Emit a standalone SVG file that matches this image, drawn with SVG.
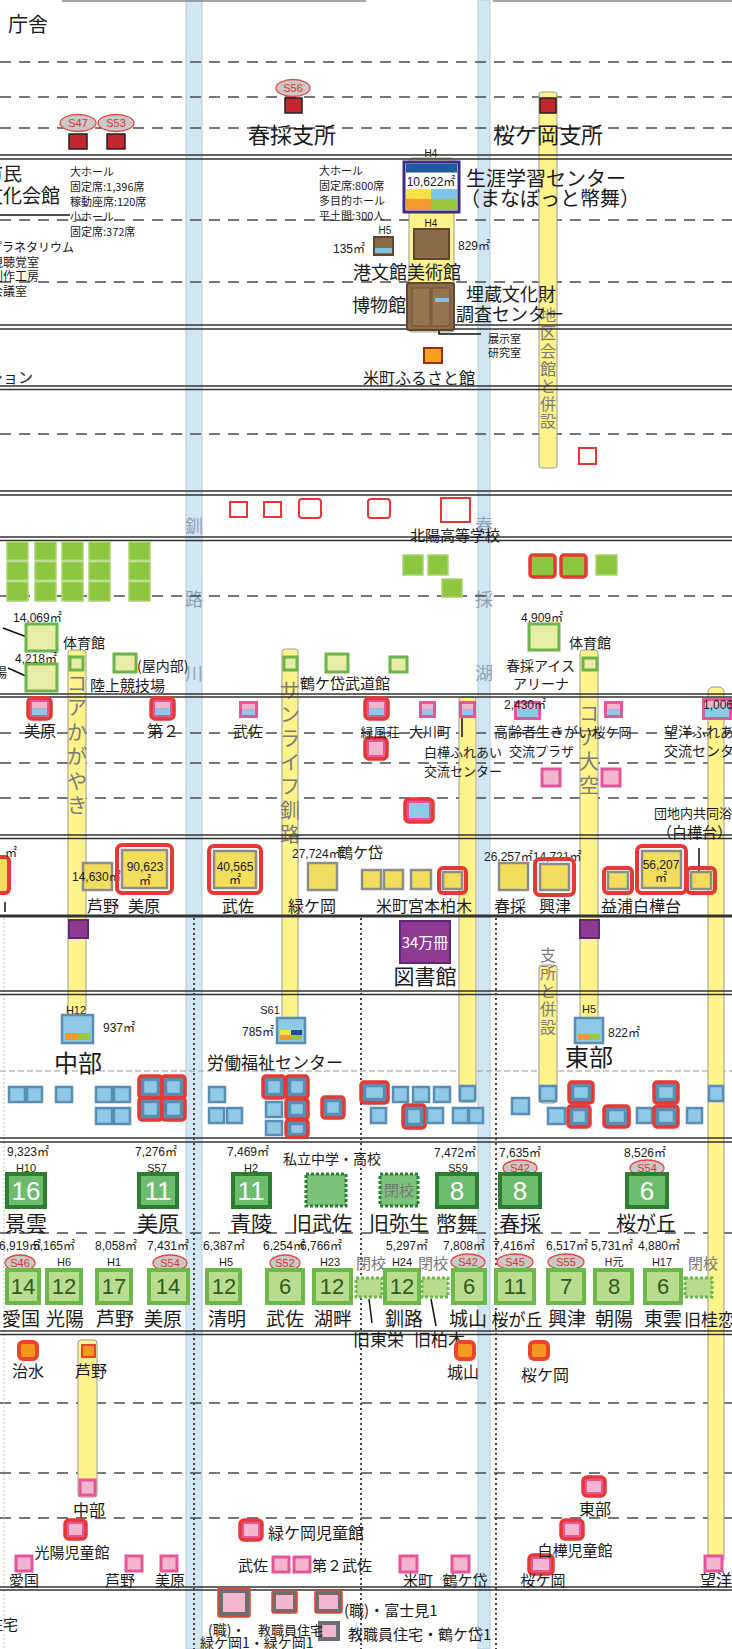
<svg xmlns="http://www.w3.org/2000/svg" width="732" height="1649" viewBox="0 0 732 1649">
<style>
text{font-family:"Noto Sans CJK JP","Noto Sans CJK SC",sans-serif;fill:#1a1a1a}
.n{font-family:"Liberation Sans","Noto Sans CJK JP",sans-serif}
.m{text-anchor:middle}
.dash{stroke:#4a4a4a;stroke-width:1.3;stroke-dasharray:11 8;fill:none}
.dbl{stroke:#333;stroke-width:1.5;fill:none}
.dot{stroke:#444;stroke-width:2;stroke-dasharray:2 3;fill:none}
.river{fill:#D2E6F4;stroke:#B5C9D8;stroke-width:1}
.bar{fill:#FFF38C;stroke:#999;stroke-width:1}
.g{fill:#8DC63F;stroke:#A9D46F;stroke-width:1.5}
.gr{fill:#8DC63F;stroke:#E53935;stroke-width:3.5}
.ls{fill:#E7ECA6;stroke:#6DB44A;stroke-width:3}
.ys{fill:#F2DD5C;stroke:#8C8C8C;stroke-width:2.5}
.rr{fill:none;stroke:#E53935;stroke-width:4}
.rw{fill:#fff;stroke:#E53935;stroke-width:2}
.b{fill:#8ECAE6;stroke:#5A8DB3;stroke-width:2.5}
.rb{fill:#5A8DB3;stroke:#E53935;stroke-width:3.5}
.rm{fill:#E4559A;stroke:#E53935;stroke-width:3.5}
.mg{fill:#E4559A}
.pin{fill:#F4B6CF}
.blu{fill:#8ECAE6}
.pk{fill:#F4B6CF;stroke:#E4559A;stroke-width:3}
.jh{fill:#6DBB6D;stroke:#2E7D32;stroke-width:4}
.jhd{fill:#7BC27B;stroke:#2E7D32;stroke-width:3;stroke-dasharray:3 2}
.el{fill:#B9DC8E;stroke:#6DB84A;stroke-width:4}
.eld{fill:#B9DC8E;stroke:#6DB84A;stroke-width:3;stroke-dasharray:3 2}
.badge{fill:#C9C9C9;stroke:#E8453C;stroke-width:1.3}
.bt{fill:#D9352C;font-size:11px;text-anchor:middle}
.or{fill:#F39A1E;stroke:#E8452C;stroke-width:4}
.pu{fill:#8E3A92;stroke:#5A2A78;stroke-width:2}
.dr{fill:#C1272D;stroke:#222;stroke-width:1.5}
.br{fill:#8B6B4A;stroke:#5E4630;stroke-width:2}
.vt{fill:#7a7a7a;text-anchor:middle}
.rv{fill:#8FA3B3;text-anchor:middle;font-size:18px}
.jn{fill:#fff;font-size:26px;text-anchor:middle}
.en{fill:#2F5A1E;font-size:22px;text-anchor:middle}
.cl{fill:#777;font-size:15px;text-anchor:middle}
.ln{stroke:#111;stroke-width:1.5;fill:none}
</style>

<g id="rivers">
<rect class="river" x="186" y="0" width="16" height="1649"/>
<rect class="river" x="478" y="0" width="12" height="1649"/>
<text class="rv" x="194" y="533">釧</text>
<text class="rv" x="194" y="606">路</text>
<text class="rv" x="194" y="680">川</text>
<text class="rv" x="484" y="532">春</text>
<text class="rv" x="484" y="606">採</text>
<text class="rv" x="484" y="680">湖</text>
</g>

<g id="dashed-lines">
<path class="dash" d="M0 62H732M0 97H732M0 128H732M0 220H732M0 282H732M0 434H732M0 596H732M0 733H732M0 763H732M0 798H732M0 1233H732M0 1403H732M0 1473H732M0 1518H732"/>
<path d="M0 1071H732" stroke="#999" stroke-width="1.2" stroke-dasharray="6 3"/>
<path d="M62 1H366M493 1H732" stroke="#888" stroke-width="1.5"/>
<path class="dot" d="M194 918V1649M361 918V1649M496 918V1649"/>
<path d="M4 918V1649" stroke="#bbb" stroke-width="1" stroke-dasharray="2 2"/>
</g>

<g id="bars">
<rect class="bar" x="539" y="92" width="18" height="376" rx="3"/>
<rect class="bar" x="409" y="158" width="45" height="174" rx="3"/>
<rect class="bar" x="68" y="650" width="18" height="365" rx="3"/>
<rect class="bar" x="282" y="649" width="16" height="371" rx="3"/>
<rect class="bar" x="459" y="697" width="17" height="405" rx="3"/>
<rect class="bar" x="580" y="650" width="18" height="370" rx="3"/>
<rect class="bar" x="539" y="965" width="18" height="138" rx="3"/>
<rect class="bar" x="708" y="687" width="16" height="876" rx="5"/>
<rect class="bar" x="78" y="1340" width="19" height="157" rx="3"/>
<g font-size="16">
<text class="vt" x="548" y="321">地</text><text class="vt" x="548" y="339">区</text><text class="vt" x="548" y="357">会</text><text class="vt" x="548" y="375">館</text><text class="vt" x="548" y="392">と</text><text class="vt" x="548" y="410">併</text><text class="vt" x="548" y="427">設</text>
<text class="vt" x="548" y="961">支</text><text class="vt" x="548" y="979">所</text><text class="vt" x="548" y="997">と</text><text class="vt" x="548" y="1015">併</text><text class="vt" x="548" y="1033">設</text>
</g>
<g font-size="20">
<text class="vt" x="77" y="691">コ</text><text class="vt" x="77" y="715">ア</text><text class="vt" x="77" y="740">か</text><text class="vt" x="77" y="764">が</text><text class="vt" x="77" y="789">や</text><text class="vt" x="77" y="813">き</text>
<text class="vt" x="290" y="698">サ</text><text class="vt" x="290" y="722">ン</text><text class="vt" x="290" y="746">ラ</text><text class="vt" x="290" y="770">イ</text><text class="vt" x="290" y="794">フ</text><text class="vt" x="290" y="818">釧</text><text class="vt" x="290" y="842">路</text>
<text class="vt" x="589" y="721">コ</text><text class="vt" x="589" y="745">ア</text><text class="vt" x="589" y="769">大</text><text class="vt" x="589" y="793">空</text>
</g>
</g>

<g id="double-lines">
<path class="dbl" d="M0 155H732M0 159H732M0 325H732M0 329H732M0 386H732M0 389.5H732M0 491H732M0 495H732M0 537H732M0 540.5H732M0 694H732M0 697H732M0 835H732M0 838.5H732M0 991H732M0 994.5H732M0 1138H732M0 1142H732M0 1331H732M0 1334.5H732M0 1587H732M0 1590H732"/>
<path d="M0 916H732" stroke="#333" stroke-width="3"/>
</g>

<g id="connectors">
<path class="ln" d="M439 302V334H481"/>
<path class="ln" d="M3 628L32 639M8 668L28 677"/>
<path class="ln" d="M462 708V737"/>
<path class="ln" d="M699 848V877"/>
<path class="ln" d="M5 902V912"/>
<path class="ln" d="M369 1299L372 1323M431 1299L436 1326" stroke-width="1.2"/>
<path class="ln" d="M0 215H70"/>
</g>

<g id="n-chosha"><text x="8" y="32" font-size="20">庁舎</text></g>
<g id="n-s47"><ellipse class="badge" cx="78" cy="123" rx="18" ry="8.5"/><text class="bt n" x="78" y="127">S47</text><rect class="dr" x="69" y="134" width="18" height="15"/></g>
<g id="n-s53"><ellipse class="badge" cx="116" cy="123" rx="18" ry="8.5"/><text class="bt n" x="116" y="127">S53</text><rect class="dr" x="107" y="134" width="18" height="15"/></g>
<g id="n-harutori-shisho"><ellipse class="badge" cx="293" cy="88" rx="17" ry="8.5"/><text class="bt n" x="293" y="92">S56</text><rect class="dr" x="285" y="98" width="17" height="15"/><text class="m" x="292" y="143" font-size="22">春採支所</text></g>
<g id="n-sakuragaoka-shisho"><rect class="dr" x="540" y="98" width="16" height="15"/><text class="m" x="548" y="143" font-size="22">桜ケ岡支所</text></g>

<g id="n-bunka-kaikan">
<text x="-16" y="181" font-size="19">市民</text>
<text x="-16" y="203" font-size="19">文化会館</text>
<g font-size="11"><text x="70" y="176">大ホール</text><text x="70" y="191">固定席:1,396席</text><text x="70" y="206">稼動座席:120席</text><text x="70" y="221">小ホール</text><text x="70" y="236">固定席:372席</text></g>
<g font-size="12"><text x="-10" y="252">プラネタリウム</text><text x="-9" y="267">視聴覚室</text><text x="-9" y="281">創作工房</text><text x="-9" y="296">会議室</text></g>
<text x="-12" y="383" font-size="15">ション</text>
</g>

<g id="n-manabotto">
<text class="m n" x="431" y="157" font-size="10">H4</text>
<rect x="404" y="162" width="55" height="50" fill="#fff" stroke="#3F2A8A" stroke-width="3"/>
<rect x="406" y="163.5" width="51" height="9" fill="#1F5AA0"/>
<text class="m n" x="431" y="186" font-size="12">10,622㎡</text>
<rect x="406" y="189" width="25" height="10" fill="#F8E045"/><rect x="431" y="189" width="26" height="10" fill="#7CC4E8"/>
<rect x="406" y="199" width="25" height="11" fill="#F39A2E"/><rect x="431" y="199" width="26" height="11" fill="#9CC83C"/>
<text x="466" y="186" font-size="20">生涯学習センター</text>
<text x="460" y="206" font-size="20">（まなぼっと幣舞）</text>
<g font-size="11"><text x="319" y="175">大ホール</text><text x="319" y="190">固定席:800席</text><text x="319" y="205">多目的ホール</text><text x="319" y="220">平土間:300人</text></g>
</g>
<g id="n-bijutsukan"><text class="m n" x="431" y="227" font-size="10">H4</text><rect class="br" x="414" y="229" width="35" height="30"/><text class="n" x="458" y="250" font-size="12">829㎡</text></g>
<g id="n-kobunkan"><text class="m n" x="385" y="234" font-size="10">H5</text><rect class="br" x="374" y="237" width="19" height="18" stroke-width="1.5"/><rect x="375" y="248" width="17" height="5" fill="#7CC4E8"/><text class="n" x="333" y="253" font-size="12">135㎡</text><text x="353" y="279" font-size="18">港文館美術館</text></g>
<g id="n-hakubutsukan"><text x="352" y="312" font-size="18">博物館</text><rect class="br" x="407" y="283" width="47" height="47" rx="2"/><rect x="412" y="288" width="18" height="38" fill="#96744F" stroke="#6d5138"/><rect x="432" y="288" width="18" height="38" fill="#96744F" stroke="#6d5138"/><rect x="435" y="298" width="14" height="4" fill="#7CC4E8"/>
<text x="466" y="301" font-size="18">埋蔵文化財</text><text x="456" y="321" font-size="18">調査センター</text>
<text x="488" y="343" font-size="11">展示室</text><text x="488" y="357" font-size="11">研究室</text></g>
<g id="n-yonemachi-furusato"><rect x="424" y="348" width="18" height="15" fill="#F5A020" stroke="#9B2A1A" stroke-width="2"/><text class="m" x="419" y="384" font-size="16">米町ふるさと館</text></g>

<g id="n-sec3"><rect class="rw" x="579" y="448" width="17" height="16"/></g>
<g id="n-sec4">
<rect class="rw" x="230" y="502" width="17" height="15"/><rect class="rw" x="264" y="502" width="17" height="15"/>
<rect class="rw" x="299" y="499" width="22" height="19" rx="3" stroke-width="5"/><rect class="rw" x="368" y="499" width="22" height="19" rx="3" stroke-width="5"/>
<rect class="rw" x="441" y="498" width="29" height="24" stroke-width="3"/>
<text class="m" x="455" y="541" font-size="15">北陽高等学校</text>
</g>

<g id="n-parks">
<rect class="g" x="7" y="542" width="21" height="18"/><rect class="g" x="35" y="542" width="21" height="18"/><rect class="g" x="62" y="542" width="21" height="18"/><rect class="g" x="89" y="542" width="21" height="18"/><rect class="g" x="129" y="542" width="21" height="18"/>
<rect class="g" x="7" y="562" width="21" height="18"/><rect class="g" x="35" y="562" width="21" height="18"/><rect class="g" x="62" y="562" width="21" height="18"/><rect class="g" x="89" y="562" width="21" height="18"/><rect class="g" x="129" y="562" width="21" height="18"/>
<rect class="g" x="7" y="582" width="21" height="19"/><rect class="g" x="35" y="582" width="21" height="19"/><rect class="g" x="62" y="582" width="21" height="19"/><rect class="g" x="89" y="582" width="21" height="19"/><rect class="g" x="129" y="582" width="21" height="19"/>
<rect class="g" x="403" y="555" width="20" height="20"/><rect class="g" x="428" y="555" width="20" height="20"/><rect class="g" x="442" y="579" width="20" height="18"/>
<rect class="gr" x="530" y="555" width="25" height="22" rx="3"/><rect class="gr" x="561" y="555" width="25" height="22" rx="3"/>
<rect class="g" x="596" y="555" width="21" height="20"/>
</g>

<g id="n-sports">
<text class="n" x="13" y="622" font-size="12">14,069㎡</text><rect class="ls" x="26" y="624" width="31" height="27"/><text x="63" y="648" font-size="14">体育館</text>
<text class="n" x="15" y="663" font-size="12">4,218㎡</text><rect class="ls" x="26" y="664" width="31" height="27"/>
<text x="7" y="677" font-size="13" text-anchor="end">球場</text>
<rect class="ls" x="70" y="657" width="13" height="13" stroke-width="2.5"/>
<rect class="ls" x="114" y="654" width="22" height="18"/><text x="137" y="671" font-size="14">(屋内部)</text><text x="90" y="691" font-size="15">陸上競技場</text>
<rect class="ls" x="284" y="657" width="13" height="13" stroke-width="2.5"/>
<rect class="ls" x="326" y="654" width="22" height="18"/><text x="300" y="689" font-size="15">鶴ケ岱武道館</text>
<rect class="ls" x="390" y="657" width="17" height="15"/>
<text class="n" x="521" y="622" font-size="12">4,909㎡</text><rect class="ls" x="529" y="624" width="30" height="26"/><text x="569" y="648" font-size="14">体育館</text>
<text x="506" y="671" font-size="14">春採アイス</text><text x="513" y="689" font-size="14">アリーナ</text>
<rect class="ls" x="583" y="658" width="14" height="12" stroke-width="2.5"/>
</g>

<g id="n-community">
<rect class="rm" x="28" y="698" width="23" height="21" rx="4"/><rect class="pin" x="32" y="702" width="15" height="6.5"/><rect class="blu" x="32" y="708.5" width="15" height="6.5"/>
<rect class="rm" x="151" y="698" width="23" height="21" rx="4"/><rect class="pin" x="155" y="702" width="15" height="6.5"/><rect class="blu" x="155" y="708.5" width="15" height="6.5"/>
<rect class="mg" x="239" y="701" width="19" height="17"/><rect class="pin" x="242" y="704" width="13" height="5.5"/><rect class="blu" x="242" y="709.5" width="13" height="5.5"/>
<rect class="rm" x="365" y="698" width="23" height="21" rx="4"/><rect class="pin" x="369" y="702" width="15" height="6.5"/><rect class="blu" x="369" y="708.5" width="15" height="6.5"/>
<rect class="mg" x="419" y="701" width="17" height="17"/><rect class="pin" x="422" y="704" width="11" height="5.5"/><rect class="blu" x="422" y="709.5" width="11" height="5.5"/>
<rect class="mg" x="459" y="701" width="17" height="17"/><rect class="pin" x="462" y="704" width="11" height="5.5"/><rect class="blu" x="462" y="709.5" width="11" height="5.5"/>
<rect class="mg" x="514" y="701" width="27" height="19"/><rect class="pin" x="517" y="704" width="21" height="5"/><rect class="blu" x="517" y="709" width="21" height="8"/>
<rect class="mg" x="604" y="701" width="19" height="17"/><rect class="pin" x="607" y="704" width="13" height="5.5"/><rect class="blu" x="607" y="709.5" width="13" height="5.5"/>
<rect class="mg" x="702" y="698" width="30" height="22"/><rect class="pin" x="705" y="701" width="24" height="6"/><rect class="blu" x="705" y="707" width="24" height="10"/>
<rect class="rm" x="365" y="738" width="22" height="21" rx="4"/><rect class="pin" x="369" y="742" width="14" height="13"/>
<rect class="pk" x="542" y="769" width="18" height="17"/><rect class="pk" x="602" y="769" width="18" height="17"/>
<rect class="rm" x="405" y="799" width="28" height="23" rx="4"/><rect class="blu" x="409" y="803" width="20" height="15"/>
<g font-size="15">
<text class="m" x="40" y="737" font-size="16">美原</text><text class="m" x="163" y="737" font-size="16">第２</text><text class="m" x="248" y="737">武佐</text>
<text class="m" x="380" y="737" font-size="13">緑風荘</text><text class="m" x="430" y="737" font-size="14">大川町</text>
<text x="424" y="757" font-size="13">白樺ふれあい</text><text x="424" y="776" font-size="13">交流センター</text>
<text x="494" y="737" font-size="14">高齢者生きがい</text><text x="509" y="756" font-size="13">交流プラザ</text>
<text class="m" x="612" y="737" font-size="13">桜ケ岡</text>
<text x="664" y="737" font-size="14">望洋ふれあい</text><text x="664" y="756" font-size="14">交流センター</text>
<text x="654" y="818" font-size="13">団地内共同浴場</text><text x="657" y="838">（白樺台）</text>
</g>
<text class="n" x="504" y="709" font-size="12">2,430㎡</text><text class="n" x="703" y="709" font-size="12">1,006㎡</text>
</g>

<g id="n-big-parks">
<rect x="-20" y="857" width="29" height="36" rx="4" fill="#F2DD5C" stroke="#E53935" stroke-width="4"/>
<text x="17" y="857" font-size="12" text-anchor="end">㎡</text>
<rect class="ys" x="83" y="863" width="29" height="27"/><text class="n" x="72" y="881" font-size="12">14,630㎡</text>
<rect class="rr" x="117" y="845" width="55" height="48" rx="5"/><rect class="ys" x="122" y="850" width="45" height="38" stroke-width="3"/><text class="m n" x="145" y="871" font-size="12">90,623</text><text class="m" x="145" y="885" font-size="12">㎡</text>
<rect class="rr" x="209" y="846" width="52" height="47" rx="5"/><rect class="ys" x="214" y="851" width="42" height="37" stroke-width="3"/><text class="m n" x="235" y="871" font-size="12">40,565</text><text class="m" x="235" y="884" font-size="12">㎡</text>
<text class="n" x="292" y="858" font-size="12">27,724㎡</text><text x="338" y="858" font-size="15">鶴ケ岱</text>
<rect class="ys" x="308" y="863" width="29" height="27"/>
<rect class="ys" x="362" y="870" width="19" height="19"/><rect class="ys" x="384" y="870" width="19" height="19"/><rect class="ys" x="411" y="870" width="20" height="19"/>
<rect class="rr" x="439" y="868" width="27" height="25" rx="4"/><rect class="ys" x="443" y="872" width="19" height="17"/>
<text class="n" x="484" y="861" font-size="12">26,257㎡14,721㎡</text>
<rect class="ys" x="499" y="863" width="29" height="27"/>
<rect class="rr" x="535" y="859" width="39" height="36" rx="5"/><rect class="ys" x="540" y="864" width="29" height="26"/>
<rect class="rr" x="604" y="868" width="28" height="25" rx="4"/><rect class="ys" x="608" y="872" width="20" height="17"/>
<rect class="rr" x="637" y="846" width="49" height="47" rx="5"/><rect class="ys" x="642" y="851" width="39" height="37" stroke-width="3"/><text class="m n" x="661" y="869" font-size="12">56,207</text><text class="m" x="661" y="882" font-size="12">㎡</text>
<rect class="rr" x="687" y="868" width="28" height="25" rx="4"/><rect class="ys" x="691" y="872" width="20" height="17"/>
<g font-size="16"><text x="87" y="912">芦野</text><text x="128" y="912">美原</text><text class="m" x="238" y="912">武佐</text><text x="288" y="912">緑ケ岡</text><text x="376" y="912">米町宮本柏木</text><text x="494" y="912">春採</text><text x="539" y="912">興津</text><text x="601" y="912">益浦</text><text x="633" y="912">白樺台</text></g>
</g>

<g id="n-library">
<rect class="pu" x="69" y="920" width="19" height="18"/><rect class="pu" x="580" y="920" width="19" height="18"/>
<rect class="pu" x="400" y="921" width="50" height="42" stroke-width="3"/><text class="m" x="425" y="948" font-size="15" style="fill:#fff">34万冊</text><text class="m" x="425" y="984" font-size="21">図書館</text>
</g>

<g id="n-chubu"><text class="m n" x="76" y="1014" font-size="11">H12</text><rect class="b" x="62" y="1015" width="31" height="28"/><rect x="65" y="1033" width="13" height="7" fill="#F39A2E"/><rect x="78" y="1033" width="12" height="7" fill="#9CC83C"/><text class="n" x="103" y="1032" font-size="12">937㎡</text><text class="m" x="78" y="1072" font-size="24">中部</text></g>
<g id="n-rodo"><text class="m n" x="270" y="1014" font-size="11">S61</text><rect class="b" x="277" y="1018" width="28" height="25"/><rect x="280" y="1030" width="11" height="5" fill="#F8E045"/><rect x="291" y="1030" width="11" height="5" fill="#1F4F9A"/><rect x="280" y="1035" width="11" height="5" fill="#F39A2E"/><rect x="291" y="1035" width="11" height="5" fill="#9CC83C"/><text class="n" x="242" y="1036" font-size="12">785㎡</text><text class="m" x="275" y="1069" font-size="17">労働福祉センター</text></g>
<g id="n-tobu"><text class="m n" x="589" y="1013" font-size="11">H5</text><rect class="b" x="575" y="1018" width="28" height="25"/><rect x="578" y="1034" width="11" height="6" fill="#F39A2E"/><rect x="589" y="1034" width="11" height="6" fill="#9CC83C"/><text class="n" x="608" y="1037" font-size="12">822㎡</text><text class="m" x="589" y="1066" font-size="24">東部</text></g>

<g id="n-meeting">
<rect class="b" x="9" y="1087" width="16" height="15"/><rect class="b" x="27" y="1087" width="15" height="15"/><rect class="b" x="56" y="1087" width="16" height="15"/><rect class="b" x="96" y="1087" width="16" height="15"/><rect class="b" x="114" y="1087" width="16" height="15"/>
<rect class="b" x="96" y="1108" width="16" height="16"/><rect class="b" x="114" y="1108" width="16" height="16"/>
<rect class="rb" x="139" y="1076" width="23" height="22" rx="3"/><rect class="b" x="143" y="1080" width="15" height="14"/>
<rect class="rb" x="162" y="1076" width="23" height="22" rx="3"/><rect class="b" x="166" y="1080" width="15" height="14"/>
<rect class="rb" x="139" y="1098" width="23" height="22" rx="3"/><rect class="b" x="143" y="1102" width="15" height="14"/>
<rect class="rb" x="162" y="1098" width="23" height="22" rx="3"/><rect class="b" x="166" y="1102" width="15" height="14"/>
<rect class="b" x="209" y="1087" width="16" height="15"/><rect class="b" x="209" y="1108" width="15" height="15"/><rect class="b" x="227" y="1108" width="15" height="15"/>
<rect class="rb" x="263" y="1076" width="22" height="22" rx="3"/><rect class="b" x="267" y="1080" width="14" height="14"/>
<rect class="rb" x="286" y="1076" width="22" height="22" rx="3"/><rect class="b" x="290" y="1080" width="14" height="14"/>
<rect class="b" x="266" y="1102" width="16" height="15"/><rect class="b" x="266" y="1121" width="16" height="14"/>
<rect class="rb" x="286" y="1099" width="22" height="20" rx="3"/><rect class="b" x="290" y="1103" width="14" height="12"/>
<rect class="rb" x="286" y="1120" width="22" height="17" rx="3"/><rect class="b" x="290" y="1124" width="14" height="10"/>
<rect class="rb" x="322" y="1097" width="22" height="21" rx="3"/><rect class="b" x="326" y="1101" width="14" height="13"/>
<rect class="rb" x="361" y="1082" width="27" height="21" rx="3"/><rect class="b" x="365" y="1086" width="19" height="13"/>
<rect class="b" x="371" y="1108" width="15" height="15"/>
<rect class="b" x="393" y="1087" width="15" height="15"/><rect class="b" x="413" y="1087" width="16" height="15"/><rect class="b" x="434" y="1087" width="16" height="15"/><rect class="b" x="460" y="1086" width="15" height="15"/>
<rect class="rb" x="403" y="1105" width="22" height="23" rx="3"/><rect class="b" x="407" y="1109" width="14" height="15"/>
<rect class="b" x="427" y="1108" width="16" height="15"/><rect class="b" x="453" y="1108" width="15" height="15"/><rect class="b" x="469" y="1108" width="14" height="15"/>
<rect class="b" x="512" y="1098" width="17" height="16"/><rect class="b" x="540" y="1086" width="16" height="15"/>
<rect class="b" x="548" y="1108" width="17" height="16"/>
<rect class="rb" x="569" y="1082" width="24" height="21" rx="3"/><rect class="b" x="573" y="1086" width="16" height="13"/>
<rect class="rb" x="568" y="1106" width="22" height="21" rx="3"/><rect class="b" x="572" y="1110" width="14" height="13"/>
<rect class="rb" x="604" y="1106" width="25" height="21" rx="3"/><rect class="b" x="608" y="1110" width="17" height="13"/>
<rect class="b" x="637" y="1108" width="15" height="15"/>
<rect class="rb" x="654" y="1082" width="24" height="21" rx="3"/><rect class="b" x="658" y="1086" width="16" height="13"/>
<rect class="rb" x="654" y="1106" width="24" height="21" rx="3"/><rect class="b" x="658" y="1110" width="16" height="13"/>
<rect class="b" x="687" y="1108" width="15" height="15"/><rect class="b" x="709" y="1086" width="14" height="15"/>
</g>

<g id="n-junior-high">
<g font-size="12"><text class="n" x="7" y="1156">9,323㎡</text><text class="n" x="135" y="1156">7,276㎡</text><text class="n" x="227" y="1156">7,469㎡</text><text class="n" x="434" y="1157">7,472㎡</text><text class="n" x="499" y="1157">7,635㎡</text><text class="n" x="624" y="1157">8,526㎡</text></g>
<g font-size="11"><text class="m n" x="26" y="1172">H10</text><text class="m n" x="157" y="1172">S57</text><text class="m n" x="251" y="1172">H2</text><text class="m n" x="458" y="1172">S59</text></g>
<ellipse class="badge" cx="520" cy="1168" rx="17" ry="8"/><text class="bt n" x="520" y="1172">S42</text>
<ellipse class="badge" cx="647" cy="1168" rx="17" ry="8"/><text class="bt n" x="647" y="1172">S54</text>
<rect class="jh" x="7" y="1174" width="38" height="33"/><text class="jn n" x="26" y="1200">16</text>
<rect class="jh" x="139" y="1174" width="38" height="33"/><text class="jn n" x="158" y="1200">11</text>
<rect class="jh" x="233" y="1174" width="37" height="33"/><text class="jn n" x="251" y="1200">11</text>
<rect class="jhd" x="306" y="1174" width="40" height="32"/>
<rect class="jhd" x="380" y="1174" width="38" height="32"/><text class="cl" x="399" y="1196">閉校</text>
<rect class="jh" x="437" y="1174" width="40" height="33"/><text class="jn n" x="457" y="1200">8</text>
<rect class="jh" x="500" y="1174" width="40" height="33"/><text class="jn n" x="520" y="1200">8</text>
<rect class="jh" x="627" y="1174" width="40" height="33"/><text class="jn n" x="647" y="1200">6</text>
<text x="283" y="1164" font-size="14">私立中学・高校</text>
<g font-size="21"><text class="m" x="26" y="1231">景雲</text><text class="m" x="158" y="1231">美原</text><text class="m" x="251" y="1231">青陵</text><text class="m" x="322" y="1231" font-size="20">旧武佐</text><text class="m" x="399" y="1231" font-size="20">旧弥生</text><text class="m" x="457" y="1231">幣舞</text><text class="m" x="520" y="1231">春採</text><text class="m" x="646" y="1231" font-size="20">桜が丘</text></g>
</g>

<g id="n-elementary">
<g font-size="12"><text class="n" x="-1" y="1250">6,919㎡</text><text class="n" x="33" y="1250">5,165㎡</text><text class="n" x="95" y="1250">8,058㎡</text><text class="n" x="147" y="1250">7,431㎡</text><text class="n" x="203" y="1250">6,387㎡</text><text class="n" x="263" y="1250">6,254㎡</text><text class="n" x="300" y="1250">6,766㎡</text><text class="n" x="386" y="1250">5,297㎡</text><text class="n" x="443" y="1250">7,808㎡</text><text class="n" x="493" y="1250">7,416㎡</text><text class="n" x="546" y="1250">6,517㎡</text><text class="n" x="591" y="1250">5,731㎡</text><text class="n" x="638" y="1250">4,880㎡</text></g>
<g font-size="11"><text class="m n" x="64" y="1266">H6</text><text class="m n" x="114" y="1266">H1</text><text class="m n" x="226" y="1266">H5</text><text class="m n" x="330" y="1266">H23</text><text class="m n" x="402" y="1266">H24</text><text class="m" x="614" y="1266">H元</text><text class="m n" x="662" y="1266">H17</text></g>
<ellipse class="badge" cx="20" cy="1263" rx="15" ry="8"/><text class="bt n" x="20" y="1267">S46</text>
<ellipse class="badge" cx="170" cy="1263" rx="17" ry="8"/><text class="bt n" x="170" y="1267">S54</text>
<ellipse class="badge" cx="285" cy="1263" rx="15" ry="8"/><text class="bt n" x="285" y="1267">S52</text>
<ellipse class="badge" cx="468" cy="1262" rx="17" ry="8"/><text class="bt n" x="468" y="1266">S42</text>
<ellipse class="badge" cx="515" cy="1262" rx="18" ry="8"/><text class="bt n" x="515" y="1266">S45</text>
<ellipse class="badge" cx="566" cy="1262" rx="18" ry="8"/><text class="bt n" x="566" y="1266">S55</text>
<rect class="el" x="7" y="1270" width="32" height="33"/><text class="en n" x="23" y="1294">14</text>
<rect class="el" x="47" y="1270" width="34" height="33"/><text class="en n" x="64" y="1294">12</text>
<rect class="el" x="97" y="1270" width="34" height="33"/><text class="en n" x="114" y="1294">17</text>
<rect class="el" x="149" y="1270" width="39" height="33"/><text class="en n" x="168" y="1294">14</text>
<rect class="el" x="207" y="1270" width="33" height="33"/><text class="en n" x="224" y="1294">12</text>
<rect class="el" x="267" y="1270" width="36" height="33"/><text class="en n" x="285" y="1294">6</text>
<rect class="el" x="314" y="1270" width="37" height="33"/><text class="en n" x="332" y="1294">12</text>
<rect class="eld" x="356" y="1278" width="26" height="19"/><text class="cl" x="371" y="1269">閉校</text>
<rect class="el" x="385" y="1270" width="34" height="33"/><text class="en n" x="402" y="1294">12</text>
<rect class="eld" x="422" y="1278" width="26" height="19"/><text class="cl" x="433" y="1269">閉校</text>
<rect class="el" x="453" y="1270" width="32" height="33"/><text class="en n" x="469" y="1294">6</text>
<rect class="el" x="496" y="1270" width="38" height="33"/><text class="en n" x="515" y="1294">11</text>
<rect class="el" x="548" y="1270" width="36" height="33"/><text class="en n" x="566" y="1294">7</text>
<rect class="el" x="595" y="1270" width="37" height="33"/><text class="en n" x="614" y="1294">8</text>
<rect class="el" x="645" y="1270" width="36" height="33"/><text class="en n" x="663" y="1294">6</text>
<rect class="eld" x="685" y="1278" width="27" height="19"/><text class="cl" x="703" y="1269">閉校</text>
<g font-size="19"><text class="m" x="21" y="1326">愛国</text><text class="m" x="65" y="1326">光陽</text><text class="m" x="115" y="1326">芦野</text><text class="m" x="163" y="1326">美原</text><text class="m" x="227" y="1326">清明</text><text class="m" x="285" y="1326">武佐</text><text class="m" x="333" y="1326">湖畔</text><text class="m" x="404" y="1326">釧路</text><text class="m" x="468" y="1326">城山</text><text class="m" x="517" y="1326" font-size="17">桜が丘</text><text class="m" x="567" y="1326">興津</text><text class="m" x="614" y="1326">朝陽</text><text class="m" x="663" y="1326">東雲</text><text x="684" y="1326" font-size="17">旧桂恋</text></g>
<text x="353" y="1346" font-size="17">旧東栄</text><text x="414" y="1346" font-size="17">旧柏木</text>
</g>

<g id="n-flood">
<rect class="or" x="19" y="1342" width="18" height="17" rx="4"/><text class="m" x="28" y="1377" font-size="16">治水</text>
<rect x="82" y="1345" width="13" height="12" fill="#F39A1E" stroke="#E8452C" stroke-width="2"/><text class="m" x="91" y="1377" font-size="16">芦野</text>
<rect class="or" x="456" y="1342" width="18" height="17" rx="4"/><text class="m" x="463" y="1378" font-size="16">城山</text>
<rect class="or" x="530" y="1342" width="18" height="17" rx="4"/><text class="m" x="545" y="1381" font-size="16">桜ケ岡</text>
</g>

<g id="n-jidokan">
<rect class="pk" x="80" y="1480" width="15" height="15"/><text class="m" x="89" y="1516" font-size="16">中部</text>
<rect class="rm" x="65" y="1520" width="21" height="19" rx="4"/><rect class="pin" x="69" y="1524" width="13" height="11"/><text class="m" x="72" y="1558" font-size="15">光陽児童館</text>
<rect class="pk" x="16" y="1556" width="16" height="15"/><text class="m" x="24" y="1586" font-size="15">愛国</text>
<rect class="pk" x="126" y="1556" width="16" height="15"/><text class="m" x="120" y="1586" font-size="15">芦野</text>
<rect class="pk" x="161" y="1556" width="16" height="15"/><text class="m" x="170" y="1586" font-size="15">美原</text>
<rect class="rm" x="240" y="1520" width="22" height="20" rx="4"/><rect class="pin" x="244" y="1524" width="14" height="12"/><text x="268" y="1539" font-size="16">緑ケ岡児童館</text>
<text x="238" y="1571" font-size="15">武佐</text><rect class="pk" x="273" y="1557" width="16" height="15"/><rect class="pk" x="294" y="1557" width="16" height="15"/><text x="312" y="1571" font-size="15">第２武佐</text>
<rect class="pk" x="400" y="1556" width="17" height="16"/><text class="m" x="418" y="1586" font-size="15">米町</text>
<rect class="pk" x="452" y="1556" width="17" height="16"/><text class="m" x="465" y="1586" font-size="15">鶴ケ岱</text>
<rect class="rm" x="529" y="1555" width="24" height="19" rx="4"/><rect class="pin" x="533" y="1559" width="16" height="11"/><text class="m" x="543" y="1586" font-size="15">桜ケ岡</text>
<rect class="rm" x="561" y="1520" width="22" height="19" rx="4"/><rect class="pin" x="565" y="1524" width="14" height="11"/><text class="m" x="575" y="1556" font-size="15">白樺児童館</text>
<rect class="rm" x="583" y="1477" width="22" height="19" rx="4"/><rect class="pin" x="587" y="1481" width="14" height="11"/><text class="m" x="595" y="1515" font-size="16">東部</text>
<rect class="pk" x="705" y="1556" width="17" height="15"/><text x="700" y="1586" font-size="16">望洋</text>
</g>

<g id="n-housing">
<text x="-12" y="1630" font-size="15">住宅</text>
<rect x="218" y="1588" width="32" height="29" rx="2" fill="#6E6E6E" stroke="#E8452C" stroke-width="1.5"/><rect class="pin" x="223" y="1593" width="22" height="19"/>
<rect x="272" y="1591" width="25" height="22" rx="2" fill="#6E6E6E" stroke="#E8452C" stroke-width="1.5"/><rect class="pin" x="276" y="1595" width="17" height="14"/>
<rect x="315" y="1591" width="27" height="22" rx="2" fill="#6E6E6E" stroke="#E8452C" stroke-width="1.5"/><rect class="pin" x="319" y="1595" width="19" height="14"/>
<rect x="318" y="1621" width="22" height="20" fill="#6E6E6E"/><rect class="pin" x="322" y="1625" width="14" height="12"/>
<text x="208" y="1635" font-size="14">(職)・</text><text x="258" y="1635" font-size="13">教職員住宅</text><text x="200" y="1648" font-size="14">緑ケ岡1・緑ケ岡1</text>
<text x="344" y="1616" font-size="15">(職)・富士見1</text>
<text x="348" y="1640" font-size="15">教職員住宅・鶴ケ岱1</text>
</g>
</svg>
